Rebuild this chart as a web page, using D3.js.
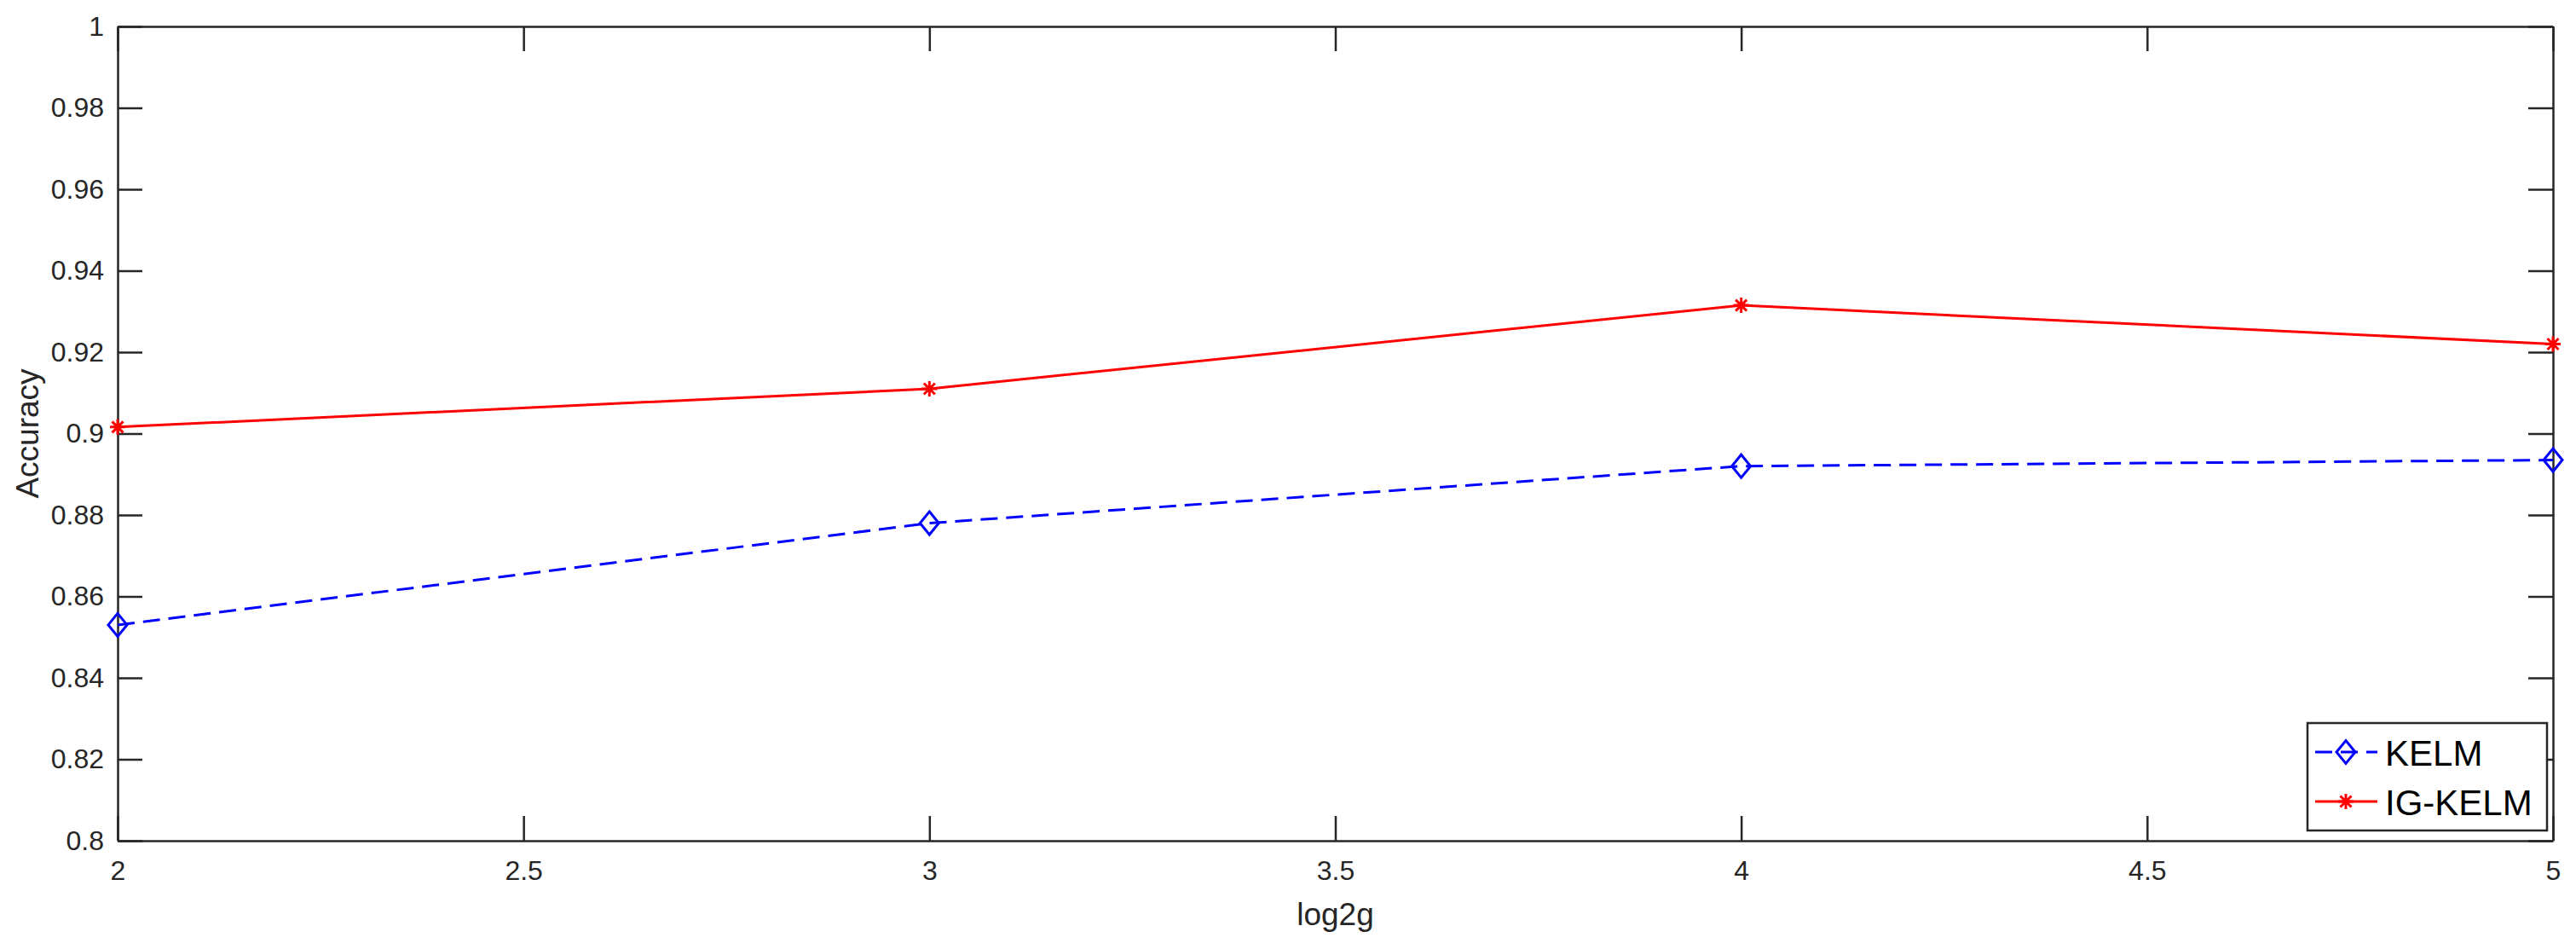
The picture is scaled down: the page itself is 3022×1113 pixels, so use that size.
<!DOCTYPE html>
<html>
<head>
<meta charset="utf-8">
<script src="https://cdn.jsdelivr.net/npm/d3@7"></script>
<style>
  body { margin: 0; background: #fff; }
  text { font-family: "Liberation Sans", Arial, sans-serif; fill: #262626; }
  .axis path, .axis line { stroke: #262626; stroke-width: 2.5; }
  .axis text { font-size: 32px; fill: #262626; font-family: "Liberation Sans", Arial, sans-serif; }
</style>
</head>
<body>
<svg></svg>
<script>
var width = 3022, height = 1113;
var margin = {top: 31, right: 27, bottom: 127, left: 138};
var plotW = width - margin.left - margin.right;
var plotH = height - margin.top - margin.bottom;

// data
var log2g = [2, 3, 4, 5];
var kelm = [0.853, 0.878, 0.892, 0.8935];
var igKelm = [0.9016, 0.911, 0.9315, 0.922];
var seriesNames = ["KELM", "IG-KELM"];
var xTicks = [2, 2.5, 3, 3.5, 4, 4.5, 5];
var yTicks = [0.8, 0.82, 0.84, 0.86, 0.88, 0.9, 0.92, 0.94, 0.96, 0.98, 1];

var svg = d3.select("svg")
    .attr("width", width)
    .attr("height", height);

var g = svg.append("g")
    .attr("transform", "translate(" + margin.left + "," + margin.top + ")");

var x = d3.scaleLinear().domain([2, 5]).range([0, plotW]);
var y = d3.scaleLinear().domain([0.8, 1]).range([plotH, 0]);

// axes, ticks pointing inward like matlab
g.append("g")
    .attr("class", "axis")
    .attr("transform", "translate(0," + plotH + ")")
    .call(d3.axisBottom(x).tickValues(xTicks).tickSize(-29).tickSizeOuter(0).tickPadding(23).tickFormat(d3.format("")));

g.append("g")
    .attr("class", "axis")
    .call(d3.axisTop(x).tickValues(xTicks).tickSize(-29).tickSizeOuter(0).tickFormat(""));

g.append("g")
    .attr("class", "axis")
    .call(d3.axisLeft(y).tickValues(yTicks).tickSize(-29).tickSizeOuter(0).tickPadding(16).tickFormat(d3.format("")));

g.append("g")
    .attr("class", "axis")
    .attr("transform", "translate(" + plotW + ",0)")
    .call(d3.axisRight(y).tickValues(yTicks).tickSize(-29).tickSizeOuter(0).tickFormat(""));

// axis labels
svg.append("text")
    .attr("x", margin.left + plotW / 2)
    .attr("y", 1085)
    .attr("text-anchor", "middle")
    .style("font-size", "37px")
    .text("log2g");

svg.append("text")
    .attr("transform", "translate(45," + (margin.top + plotH / 2) + ") rotate(-90)")
    .attr("text-anchor", "middle")
    .style("font-size", "37px")
    .text("Accuracy");

var diamond = "M0,-13.5L11,0L0,13.5L-11,0Z";
var asterisk = "M-9,0H9M0,-9V9M-6.5,-6.5L6.5,6.5M-6.5,6.5L6.5,-6.5";

var line = d3.line()
    .x(function(d) { return x(d[0]); })
    .y(function(d) { return y(d[1]); });

var kelmPts = log2g.map(function(v, i) { return [v, kelm[i]]; });
var igPts = log2g.map(function(v, i) { return [v, igKelm[i]]; });

g.append("path")
    .datum(kelmPts)
    .attr("d", line)
    .attr("fill", "none")
    .attr("stroke", "#0000ff")
    .attr("stroke-width", 3)
    .attr("stroke-dasharray", "20,10");

g.selectAll(".kelmMark")
    .data(kelmPts)
    .enter().append("path")
    .attr("class", "kelmMark")
    .attr("transform", function(d) { return "translate(" + x(d[0]) + "," + y(d[1]) + ")"; })
    .attr("d", diamond)
    .attr("fill", "none")
    .attr("stroke", "#0000ff")
    .attr("stroke-width", 3);

g.append("path")
    .datum(igPts)
    .attr("d", line)
    .attr("fill", "none")
    .attr("stroke", "#ff0000")
    .attr("stroke-width", 3);

g.selectAll(".igMark")
    .data(igPts)
    .enter().append("path")
    .attr("class", "igMark")
    .attr("transform", function(d) { return "translate(" + x(d[0]) + "," + y(d[1]) + ")"; })
    .attr("d", asterisk)
    .attr("fill", "none")
    .attr("stroke", "#ff0000")
    .attr("stroke-width", 3);

// legend
var legend = svg.append("g").attr("transform", "translate(2707,848)");
legend.append("rect")
    .attr("width", 281)
    .attr("height", 126)
    .attr("fill", "#fff")
    .attr("stroke", "#262626")
    .attr("stroke-width", 2.5);

var legendStyle = [
    {color: "#0000ff", dash: "20,10", marker: diamond},
    {color: "#ff0000", dash: null, marker: asterisk}
];

seriesNames.forEach(function(name, i) {
    var row = legend.append("g").attr("transform", "translate(0," + (34 + i * 58) + ")");
    row.append("line")
        .attr("x1", 9).attr("x2", 82)
        .attr("stroke", legendStyle[i].color)
        .attr("stroke-width", 3)
        .attr("stroke-dasharray", legendStyle[i].dash);
    row.append("path")
        .attr("transform", "translate(45,0)")
        .attr("d", legendStyle[i].marker)
        .attr("fill", "none")
        .attr("stroke", legendStyle[i].color)
        .attr("stroke-width", 3);
    row.append("text")
        .attr("x", 91)
        .attr("y", 16)
        .style("font-size", "42px")
        .style("fill", "#000")
        .text(name);
});
</script>
</body>
</html>
